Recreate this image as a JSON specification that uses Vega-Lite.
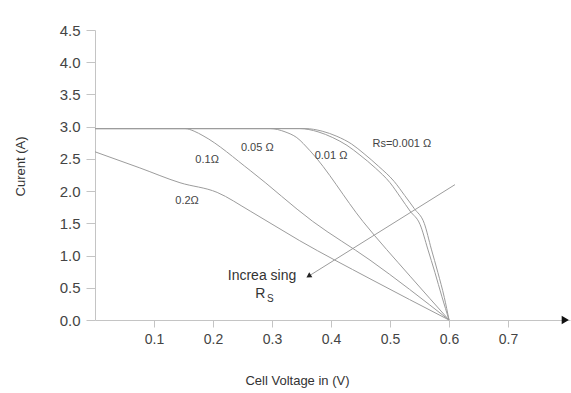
{
  "$schema": "https://vega.github.io/schema/vega-lite/v6.json",
  "width": 475,
  "height": 290,
  "autosize": "none",
  "padding": {"left": 95, "top": 30, "right": 1, "bottom": 73},
  "background": "white",
  "config": {"view": {"stroke": null}, "font": "Liberation Sans"},
  "datasets": {
    "curves": [
      {"series": "Rs=0.001", "V": 0, "I": 2.97},
      {"series": "Rs=0.001", "V": 0.356, "I": 2.97},
      {"series": "Rs=0.001", "V": 0.385, "I": 2.93},
      {"series": "Rs=0.001", "V": 0.41, "I": 2.85},
      {"series": "Rs=0.001", "V": 0.435, "I": 2.73},
      {"series": "Rs=0.001", "V": 0.456, "I": 2.58},
      {"series": "Rs=0.001", "V": 0.48, "I": 2.39},
      {"series": "Rs=0.001", "V": 0.507, "I": 2.15},
      {"series": "Rs=0.001", "V": 0.525, "I": 1.93},
      {"series": "Rs=0.001", "V": 0.541, "I": 1.73},
      {"series": "Rs=0.001", "V": 0.558, "I": 1.5},
      {"series": "Rs=0.001", "V": 0.57, "I": 1.1},
      {"series": "Rs=0.001", "V": 0.581, "I": 0.74},
      {"series": "Rs=0.001", "V": 0.592, "I": 0.35},
      {"series": "Rs=0.001", "V": 0.6, "I": 0},
      {"series": "Rs=0.01", "V": 0, "I": 2.97},
      {"series": "Rs=0.01", "V": 0.347, "I": 2.97},
      {"series": "Rs=0.01", "V": 0.378, "I": 2.92},
      {"series": "Rs=0.01", "V": 0.403, "I": 2.83},
      {"series": "Rs=0.01", "V": 0.427, "I": 2.71},
      {"series": "Rs=0.01", "V": 0.449, "I": 2.56},
      {"series": "Rs=0.01", "V": 0.475, "I": 2.36},
      {"series": "Rs=0.01", "V": 0.5, "I": 2.13},
      {"series": "Rs=0.01", "V": 0.518, "I": 1.9},
      {"series": "Rs=0.01", "V": 0.534, "I": 1.69},
      {"series": "Rs=0.01", "V": 0.551, "I": 1.48},
      {"series": "Rs=0.01", "V": 0.564, "I": 1.1},
      {"series": "Rs=0.01", "V": 0.576, "I": 0.74},
      {"series": "Rs=0.01", "V": 0.588, "I": 0.36},
      {"series": "Rs=0.01", "V": 0.6, "I": 0},
      {"series": "Rs=0.05", "V": 0, "I": 2.97},
      {"series": "Rs=0.05", "V": 0.297, "I": 2.97},
      {"series": "Rs=0.05", "V": 0.322, "I": 2.92},
      {"series": "Rs=0.05", "V": 0.342, "I": 2.83},
      {"series": "Rs=0.05", "V": 0.364, "I": 2.63},
      {"series": "Rs=0.05", "V": 0.454, "I": 1.53},
      {"series": "Rs=0.05", "V": 0.534, "I": 0.68},
      {"series": "Rs=0.05", "V": 0.6, "I": 0},
      {"series": "Rs=0.1", "V": 0, "I": 2.97},
      {"series": "Rs=0.1", "V": 0.153, "I": 2.97},
      {"series": "Rs=0.1", "V": 0.168, "I": 2.93},
      {"series": "Rs=0.1", "V": 0.183, "I": 2.86},
      {"series": "Rs=0.1", "V": 0.263, "I": 2.32},
      {"series": "Rs=0.1", "V": 0.369, "I": 1.53},
      {"series": "Rs=0.1", "V": 0.466, "I": 0.93},
      {"series": "Rs=0.1", "V": 0.6, "I": 0},
      {"series": "Rs=0.2", "V": 0, "I": 2.61},
      {"series": "Rs=0.2", "V": 0.076, "I": 2.36},
      {"series": "Rs=0.2", "V": 0.144, "I": 2.13},
      {"series": "Rs=0.2", "V": 0.207, "I": 1.98},
      {"series": "Rs=0.2", "V": 0.263, "I": 1.69},
      {"series": "Rs=0.2", "V": 0.347, "I": 1.23},
      {"series": "Rs=0.2", "V": 0.466, "I": 0.64},
      {"series": "Rs=0.2", "V": 0.6, "I": 0},
      {"series": "arrow", "V": 0.362, "I": 0.68},
      {"series": "arrow", "V": 0.61, "I": 2.1}
    ],
    "labels": [
      {"text": "0.2Ω", "V": 0.156, "I": 1.85},
      {"text": "0.1Ω", "V": 0.19, "I": 2.48},
      {"text": "0.05 Ω", "V": 0.275, "I": 2.67},
      {"text": "0.01 Ω", "V": 0.4, "I": 2.545},
      {"text": "Rs=0.001 Ω", "V": 0.52, "I": 2.73}
    ],
    "notes": [
      {"text": "Increa sing", "V": 0.283, "I": 0.683}
    ],
    "rs": [
      {"text": "R", "V": 0.28, "I": 0.4}
    ],
    "rsSub": [
      {"text": "S", "V": 0.297, "I": 0.33}
    ],
    "heads": [
      {"kind": "axis", "V": 0.797, "I": 0},
      {"kind": "rs", "V": 0.362, "I": 0.68}
    ]
  },
  "encoding": {
    "x": {
      "field": "V",
      "type": "quantitative",
      "scale": {"domain": [0, 0.805], "nice": false, "zero": false},
      "axis": {
        "title": "Cell Voltage in (V)",
        "values": [0.1, 0.2, 0.3, 0.4, 0.5, 0.6, 0.7],
        "format": ".1f",
        "grid": false,
        "domainColor": "#c4c4c4",
        "tickColor": "#c4c4c4",
        "tickSize": 7,
        "labelPadding": 5,
        "labelFontSize": 14,
        "labelColor": "#444444",
        "labelFont": "Liberation Sans",
        "titleFont": "Liberation Sans",
        "titleFontSize": 13,
        "titleFontWeight": "normal",
        "titleColor": "#333333",
        "titleX": 202,
        "titleY": 60,
        "titleAlign": "center",
        "titleBaseline": "middle"
      }
    },
    "y": {
      "field": "I",
      "type": "quantitative",
      "scale": {"domain": [0, 4.5], "nice": false},
      "axis": {
        "title": "Curent (A)",
        "values": [0, 0.5, 1, 1.5, 2, 2.5, 3, 3.5, 4, 4.5],
        "format": ".1f",
        "grid": false,
        "domainColor": "#c4c4c4",
        "tickColor": "#c4c4c4",
        "tickSize": 9,
        "labelPadding": 6,
        "labelFontSize": 15,
        "labelColor": "#444444",
        "labelFont": "Liberation Sans",
        "titleFont": "Liberation Sans",
        "titleFontSize": 13,
        "titleFontWeight": "normal",
        "titleColor": "#333333",
        "titleX": -75,
        "titleY": 136,
        "titleAlign": "center",
        "titleBaseline": "middle"
      }
    }
  },
  "layer": [
    {
      "data": {"name": "curves"},
      "mark": {"type": "line", "interpolate": "monotone", "color": "#9c9c9c", "strokeWidth": 1},
      "encoding": {"detail": {"field": "series"}}
    },
    {
      "data": {"name": "labels"},
      "mark": {"type": "text", "fontSize": 11, "color": "#444444", "align": "center", "baseline": "middle", "font": "Liberation Sans"},
      "encoding": {"text": {"field": "text"}}
    },
    {
      "data": {"name": "notes"},
      "mark": {"type": "text", "fontSize": 14, "color": "#333333", "align": "center", "baseline": "middle", "font": "Liberation Sans"},
      "encoding": {"text": {"field": "text"}}
    },
    {
      "data": {"name": "rs"},
      "mark": {"type": "text", "fontSize": 14, "color": "#333333", "align": "center", "baseline": "middle", "font": "Liberation Sans"},
      "encoding": {"text": {"field": "text"}}
    },
    {
      "data": {"name": "rsSub"},
      "mark": {"type": "text", "fontSize": 10, "color": "#333333", "align": "center", "baseline": "middle", "font": "Liberation Sans"},
      "encoding": {"text": {"field": "text"}}
    },
    {
      "data": {"name": "heads"},
      "transform": [{"filter": "datum.kind === 'axis'"}],
      "mark": {"type": "point", "shape": "triangle-right", "filled": true, "color": "#111111", "size": 70, "opacity": 1}
    },
    {
      "data": {"name": "heads"},
      "transform": [{"filter": "datum.kind === 'rs'"}],
      "mark": {"type": "point", "shape": "triangle-up", "angle": 238, "filled": true, "color": "#222222", "size": 35, "opacity": 1}
    }
  ]
}
